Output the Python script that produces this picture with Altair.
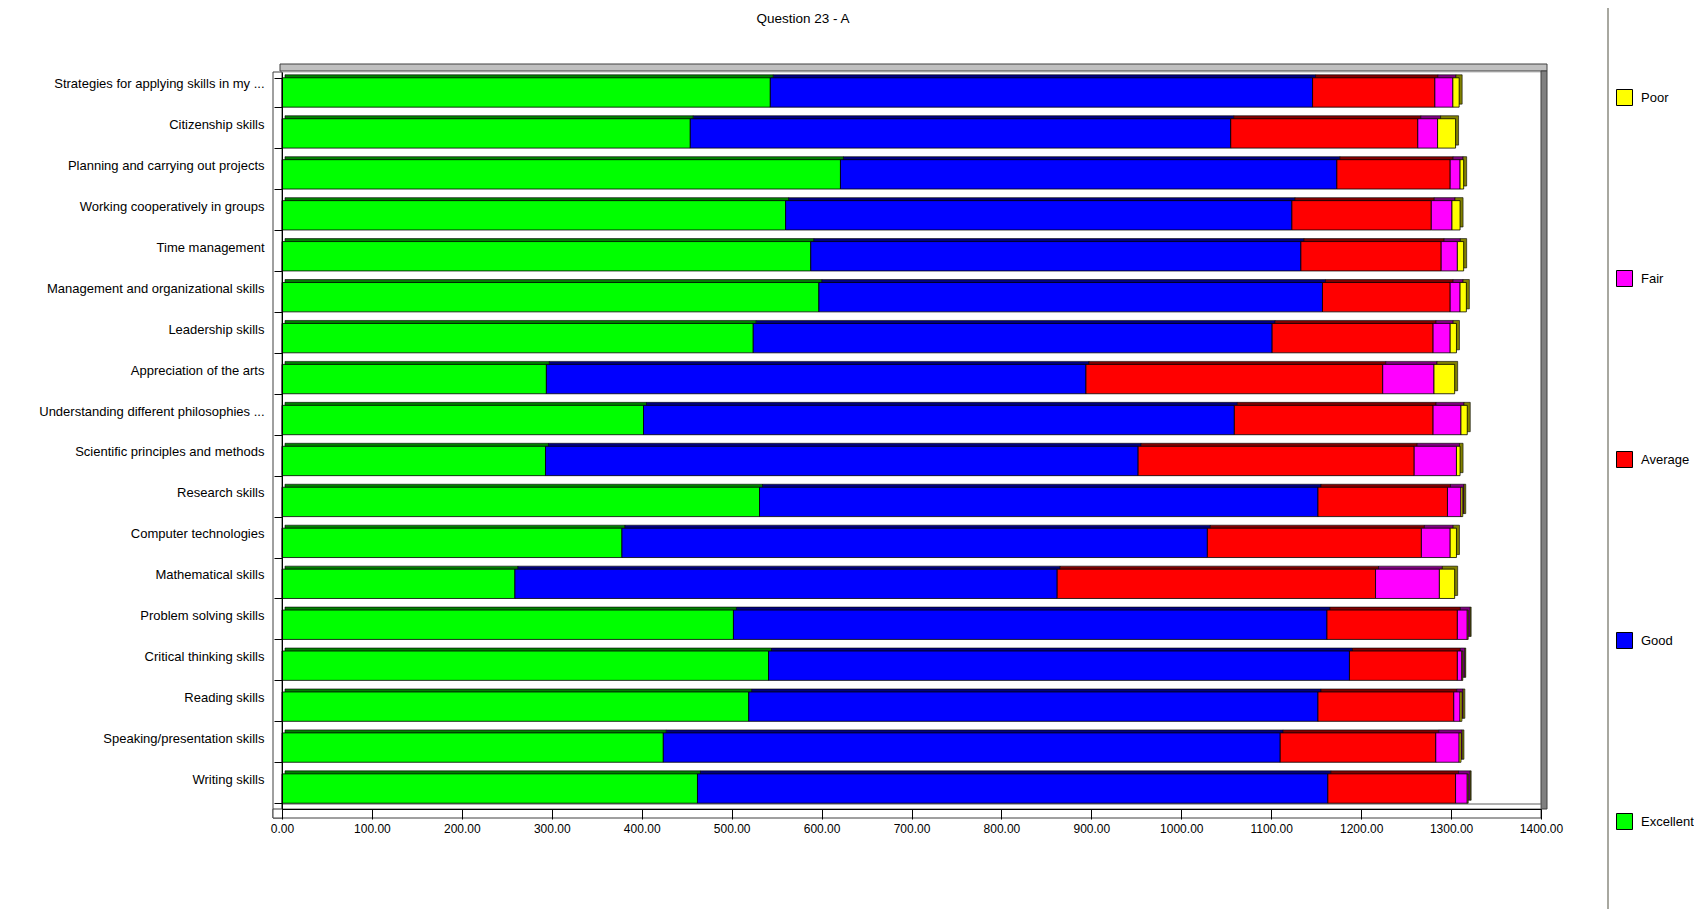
import altair as alt
import pandas as pd

categories = [
    "Strategies for applying skills in my ...",
    "Citizenship skills",
    "Planning and carrying out projects",
    "Working cooperatively in groups",
    "Time management",
    "Management and organizational skills",
    "Leadership skills",
    "Appreciation of the arts",
    "Understanding different philosophies ...",
    "Scientific principles and methods",
    "Research skills",
    "Computer technologies",
    "Mathematical skills",
    "Problem solving skills",
    "Critical thinking skills",
    "Reading skills",
    "Speaking/presentation skills",
    "Writing skills",
]
ratings = ["Excellent", "Good", "Average", "Fair", "Poor"]
excellent = [543, 454, 621, 560, 588, 597, 524, 294, 402, 293, 531, 378, 259, 502, 541, 519, 424, 462]
good = [603, 601, 552, 563, 545, 560, 577, 600, 657, 659, 621, 651, 603, 660, 646, 633, 686, 701]
average = [136, 208, 126, 155, 156, 142, 179, 330, 221, 307, 144, 238, 354, 145, 120, 151, 173, 142]
fair = [20, 22, 11, 23, 18, 11, 19, 57, 31, 47, 15, 32, 71, 11, 5, 7, 26, 13]
poor = [7, 20, 4, 9, 7, 7, 7, 23, 7, 4, 2, 7, 17, 1, 1, 2, 2, 1]

legend_order = ["Poor", "Fair", "Average", "Good", "Excellent"]
face_colors = ["#FFFF00", "#FF00FF", "#FF0000", "#0000FF", "#00FF00"]
side_colors = ["#808000", "#800080", "#800000", "#000080", "#008000"]
x_ticks = list(range(0, 1401, 100))
title_text = "Question 23 - A"

series = {"Excellent": excellent, "Good": good, "Average": average, "Fair": fair, "Poor": poor}
rows = []
for r_i, r in enumerate(ratings):
    for c, v in zip(categories, series[r]):
        rows.append({"skill": c, "rating": r, "rank": r_i, "count": v})
df = pd.DataFrame(rows)

W, H = 1259, 737
FONT = "Liberation Sans"

y_enc = alt.Y(
    "skill:N", sort=categories,
    scale=alt.Scale(paddingInner=0.283, paddingOuter=0.1415),
    axis=alt.Axis(title=None, tickBand="extent", tickSize=8, labelPadding=10, labelOffset=-9,
                  domainColor="black", tickColor="black", labelColor="black",
                  labelFont=FONT, labelFontSize=13, zindex=1, labelLimit=400),
)
x_enc = alt.X(
    "count:Q", stack="zero",
    scale=alt.Scale(domain=[0, 1400], nice=False),
    axis=alt.Axis(title=None, values=x_ticks, format=".2f", tickSize=10, labelPadding=4,
                  domainColor="black", tickColor="black", labelColor="black",
                  labelFont=FONT, labelFontSize=12, grid=False, zindex=1,
                  labelFlush=False, labelOverlap=False),
)

base = alt.Chart(df)
side = base.mark_bar(xOffset=3, yOffset=-3, stroke="black", strokeWidth=0.6).encode(
    x=x_enc, y=y_enc,
    color=alt.Color("rating:N", scale=alt.Scale(domain=legend_order, range=side_colors), legend=None),
    order=alt.Order("rank:Q"),
)
face = base.mark_bar(stroke="black", strokeWidth=0.8).encode(
    x=x_enc, y=y_enc,
    color=alt.Color(
        "rating:N",
        scale=alt.Scale(domain=legend_order, range=face_colors),
        legend=alt.Legend(title=None, orient="none", legendX=1334, legendY=17, direction="vertical",
                          rowPadding=160, symbolType="square", symbolSize=256,
                          symbolStrokeColor="black", symbolStrokeWidth=1, symbolOpacity=1,
                          labelOffset=8, labelFont=FONT, labelFontSize=13, labelColor="black",
                          padding=0),
    ),
    order=alt.Order("rank:Q"),
)

one = pd.DataFrame({"k": [0]})


def deco(x, x2, y, y2, fill, stroke):
    return alt.Chart(one).mark_rect(fill=fill, stroke=stroke, strokeWidth=1).encode(
        x=alt.value(x), x2=alt.value(x2), y=alt.value(y), y2=alt.value(y2))


top_strip = deco(-2, W + 6, -8, -1, "#c0c0c0", "#404040")
right_wall = deco(W, W + 6, -1, H, "#808080", "#404040")
left_wall = deco(-9, 0, 0, H + 9, "#ffffff", "#404040")
floor = deco(0, W, H - 5, H, "#ffffff", "#606060")
bottom_box = deco(-9, W, H, H + 9, "#ffffff", "#404040")
panel_line = alt.Chart(one).mark_rule(color="#a8a8a0", strokeWidth=2).encode(
    x=alt.value(1326), y=alt.value(-64), y2=alt.value(H + 104))

chart = alt.layer(
    top_strip, right_wall, left_wall, bottom_box, floor, panel_line, side, face
).resolve_scale(color="independent").properties(
    width=W, height=H,
    title=alt.TitleParams(title_text, anchor="start", align="center", dx=521, dy=22, frame="group",
                          font=FONT, fontSize=13.5, fontWeight="normal", color="black"),
    padding={"left": 274, "top": 64, "right": 153, "bottom": 100},
    autosize=alt.AutoSizeParams(type="none"),
).configure_view(strokeWidth=0).configure(background="white")

chart.save("out.html", embed_options={"renderer": "svg", "actions": False})
